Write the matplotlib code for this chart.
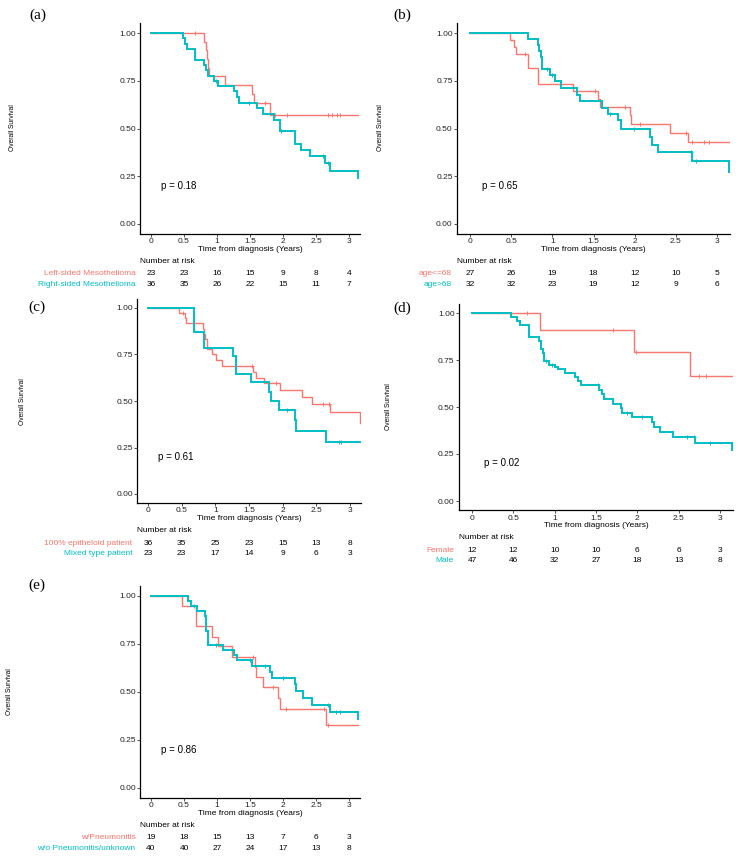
import numpy as np
import matplotlib
matplotlib.use("Agg")
import matplotlib.pyplot as plt
from matplotlib import transforms

plt.rcParams['font.family'] = ['Liberation Sans', 'DejaVu Sans']

W, H = 738, 858
RED = '#F8766D'
CYAN = '#00BFC4'

risk_times = [0, 0.5, 1, 1.5, 2, 2.5, 3]

# ---- (a) tumour side
a_red_t = [0.80, 0.83, 0.85, 0.87, 0.88, 1.12, 1.53, 1.56, 1.81, 3.14]
a_red_s = [0.955, 0.909, 0.864, 0.818, 0.773, 0.727, 0.682, 0.636, 0.573, 0.573]
a_red_c = [0.67, 1.72, 1.88, 2.06, 2.68, 2.74, 2.82, 2.86]
a_cyan_t = [0.48, 0.52, 0.55, 0.67, 0.81, 0.83, 0.86, 0.95, 1.02, 1.25, 1.30, 1.33,
            1.60, 1.70, 1.86, 1.96, 2.18, 2.28, 2.41, 2.64, 2.71, 3.14]
a_cyan_s = [0.972, 0.944, 0.917, 0.861, 0.833, 0.806, 0.773, 0.748, 0.722, 0.694, 0.666, 0.636,
            0.607, 0.575, 0.545, 0.487, 0.42, 0.387, 0.355, 0.32, 0.28, 0.24]
a_cyan_c = [0.99, 1.49, 1.97, 2.60, 2.68]
a_labels = ['Left-sided Mesothelioma', 'Right-sided Mesothelioma']
a_risk_red = [23, 23, 16, 15, 9, 8, 4]
a_risk_cyan = [36, 35, 26, 22, 15, 11, 7]

# ---- (b) age
b_red_t = [0.48, 0.53, 0.56, 0.70, 0.82, 1.25, 1.55, 1.58, 1.94, 1.96, 2.43, 2.65, 3.14]
b_red_s = [0.963, 0.926, 0.889, 0.815, 0.735, 0.697, 0.655, 0.615, 0.57, 0.525, 0.477, 0.428, 0.428]
b_red_c = [0.67, 1.52, 1.88, 2.07, 2.62, 2.70, 2.84, 2.90]
b_cyan_t = [0.70, 0.83, 0.84, 0.86, 0.88, 0.97, 1.03, 1.10, 1.30, 1.33, 1.60, 1.68, 1.80, 1.83,
            2.19, 2.21, 2.28, 2.70, 3.14]
b_cyan_s = [0.969, 0.938, 0.906, 0.875, 0.813, 0.781, 0.748, 0.713, 0.678, 0.643, 0.607, 0.578, 0.545, 0.50,
            0.458, 0.415, 0.375, 0.33, 0.27]
b_cyan_c = [0.93, 1.00, 1.70, 1.99, 2.68, 2.75]
b_labels = ['age<=68', 'age>68']
b_risk_red = [27, 26, 19, 18, 12, 10, 5]
b_risk_cyan = [32, 32, 23, 19, 12, 9, 6]

# ---- (c) histology
c_red_t = [0.46, 0.55, 0.56, 0.81, 0.83, 0.85, 0.875, 0.95, 1.01, 1.10, 1.56, 1.60, 1.72,
           1.96, 2.28, 2.43, 2.71, 3.15]
c_red_s = [0.972, 0.944, 0.917, 0.889, 0.861, 0.833, 0.778, 0.75, 0.722, 0.69, 0.657, 0.626, 0.595,
           0.561, 0.521, 0.486, 0.439, 0.38]
c_red_c = [0.52, 1.54, 1.90, 2.60, 2.69]
c_cyan_t = [0.69, 0.835, 1.26, 1.31, 1.53, 1.80, 1.83, 1.94, 2.18, 2.20, 2.64, 3.15]
c_cyan_s = [0.87, 0.783, 0.74, 0.645, 0.60, 0.55, 0.50, 0.453, 0.40, 0.34, 0.282, 0.282]
c_cyan_c = [2.07, 2.83, 2.87]
c_labels = ['100% epitheloid patient', 'Mixed type patient']
c_risk_red = [36, 35, 25, 23, 15, 13, 8]
c_risk_cyan = [23, 23, 17, 14, 9, 6, 3]

# ---- (d) sex
d_red_t = [0.82, 1.96, 2.64, 3.14]
d_red_s = [0.909, 0.795, 0.663, 0.663]
d_red_c = [0.66, 1.71, 1.98, 2.75, 2.83]
d_cyan_t = [0.47, 0.55, 0.58, 0.685, 0.815, 0.835, 0.855, 0.875, 0.935, 1.00, 1.04, 1.12, 1.24, 1.28,
            1.32, 1.54, 1.57, 1.60, 1.70, 1.80, 1.82, 1.94, 2.18, 2.20, 2.27, 2.43, 2.70, 3.14]
d_cyan_s = [0.979, 0.957, 0.936, 0.872, 0.851, 0.809, 0.787, 0.745, 0.724, 0.713, 0.70, 0.68, 0.66, 0.638,
            0.615, 0.592, 0.568, 0.545, 0.518, 0.495, 0.47, 0.445, 0.418, 0.393, 0.368, 0.342, 0.307, 0.27]
d_cyan_c = [0.90, 0.97, 1.52, 1.88, 2.06, 2.60, 2.68, 2.88]
d_labels = ['Female', 'Male']
d_risk_red = [12, 12, 10, 10, 6, 6, 3]
d_risk_cyan = [47, 46, 32, 27, 18, 13, 8]

# ---- (e) pneumonitis
e_red_t = [0.47, 0.68, 0.93, 1.02, 1.23, 1.57, 1.59, 1.70, 1.93, 1.96, 2.65, 3.14]
e_red_s = [0.947, 0.842, 0.789, 0.737, 0.684, 0.63, 0.58, 0.528, 0.47, 0.413, 0.33, 0.33]
e_red_c = [1.55, 1.85, 2.05, 2.62, 2.68]
e_cyan_t = [0.555, 0.60, 0.70, 0.82, 0.84, 0.86, 0.87, 1.09, 1.25, 1.30, 1.53, 1.80, 1.83,
            2.18, 2.20, 2.31, 2.44, 2.71, 3.14]
e_cyan_s = [0.975, 0.95, 0.924, 0.898, 0.82, 0.795, 0.745, 0.719, 0.693, 0.666, 0.636, 0.603, 0.573,
            0.54, 0.503, 0.467, 0.432, 0.398, 0.36]
e_cyan_c = [0.65, 0.99, 1.50, 1.73, 2.00, 2.68, 2.80, 2.87]
e_labels = ['w/Pneumonitis', 'w/o Pneumonitis/unknown']
e_risk_red = [19, 18, 15, 13, 7, 6, 3]
e_risk_cyan = [40, 40, 27, 24, 17, 13, 8]

p_values = ['p = 0.18', 'p = 0.65', 'p = 0.61', 'p = 0.02', 'p = 0.86']
panel_tags = ['(a)', '(b)', '(c)', '(d)', '(e)']

# pixel layout: (x of tick 0, x of tick 3, y of 1.00, y of 0.00), tag pos, ylabel pos
layout = [
    dict(x0=151, x3=349, y1=33, y0=224, tag=(38, 15), ylab=(12, 128)),
    dict(x0=470, x3=717, y1=33, y0=224, tag=(402, 15), ylab=(381, 128)),
    dict(x0=148, x3=350, y1=308, y0=494, tag=(37, 307), ylab=(22, 402)),
    dict(x0=472, x3=720, y1=313, y0=501, tag=(402, 308), ylab=(389, 407)),
    dict(x0=151, x3=349, y1=596, y0=788, tag=(37, 585), ylab=(10, 692)),
]

panels = [
    (a_red_t, a_red_s, a_red_c, a_cyan_t, a_cyan_s, a_cyan_c, a_labels, a_risk_red, a_risk_cyan),
    (b_red_t, b_red_s, b_red_c, b_cyan_t, b_cyan_s, b_cyan_c, b_labels, b_risk_red, b_risk_cyan),
    (c_red_t, c_red_s, c_red_c, c_cyan_t, c_cyan_s, c_cyan_c, c_labels, c_risk_red, c_risk_cyan),
    (d_red_t, d_red_s, d_red_c, d_cyan_t, d_cyan_s, d_cyan_c, d_labels, d_risk_red, d_risk_cyan),
    (e_red_t, e_red_s, e_red_c, e_cyan_t, e_cyan_s, e_cyan_c, e_labels, e_risk_red, e_risk_cyan),
]

XLIM = (-0.16, 3.16)
YLIM = (-0.05, 1.05)


def surv_at(times, survs, t):
    # value of the step curve at time t
    idx = np.searchsorted(times, t, side='right') - 1
    return 1.0 if idx < 0 else survs[idx]


def draw_km(ax, times, survs, cens, color, lw):
    tt = [0] + list(times)
    ss = [1.0] + list(survs)
    ax.step(tt, ss, where='post', color=color, lw=lw, solid_joinstyle='miter')
    cy = [surv_at(times, survs, c) for c in cens]
    ax.plot(cens, cy, ls='none', marker='+', ms=3.5, mew=0.7, color=color)


fig = plt.figure(figsize=(W / 100, H / 100), dpi=100)

for i, (lay, pdata) in enumerate(zip(layout, panels)):
    rt, rs, rc, ct, cs, cc, labels, risk_r, risk_c = pdata
    ppy = (lay['x3'] - lay['x0']) / 3.0
    ppu = lay['y0'] - lay['y1']
    left = lay['x0'] + XLIM[0] * ppy
    width = (XLIM[1] - XLIM[0]) * ppy
    top = lay['y1'] - (YLIM[1] - 1) * ppu
    height = (YLIM[1] - YLIM[0]) * ppu
    bottom = top + height
    ax = fig.add_axes([left / W, 1 - bottom / H, width / W, height / H])

    draw_km(ax, rt, rs, rc, RED, 1.0)
    draw_km(ax, ct, cs, cc, CYAN, 1.4)

    ax.set_xlim(*XLIM)
    ax.set_ylim(*YLIM)
    ax.set_xticks(risk_times)
    ax.set_xticklabels(['0', '0.5', '1', '1.5', '2', '2.5', '3'])
    ax.set_yticks([0, 0.25, 0.5, 0.75, 1.0])
    ax.set_yticklabels(['0.00', '0.25', '0.50', '0.75', '1.00'])
    for side in ['top', 'right']:
        ax.spines[side].set_visible(False)
    for side in ['left', 'bottom']:
        ax.spines[side].set_linewidth(0.9)
    ax.tick_params(labelsize=6, length=2, width=0.6, pad=1, colors='#333333', labelcolor='#222222')
    ax.patch.set_alpha(0)

    ax.text(0.15, 0.2, p_values[i], fontsize=7, ha='left', va='center')

    # labels and risk table
    fig.text(lay['tag'][0] / W, 1 - lay['tag'][1] / H, panel_tags[i], fontsize=11,
             family=['Liberation Serif', 'DejaVu Serif'], ha='center', va='center')
    fig.text(lay['ylab'][0] / W, 1 - lay['ylab'][1] / H, 'Overall Survival', fontsize=4.8,
             rotation=90, ha='center', va='center')

    tr = transforms.blended_transform_factory(ax.transData, fig.transFigure)
    cx = (lay['x0'] + lay['x3']) / 2.0
    fig.text(cx / W, 1 - (bottom + 15.5) / H, 'Time from diagnosis (Years)', fontsize=6,
             ha='center', va='center')
    fig.text(left / W, 1 - (bottom + 27.5) / H, 'Number at risk', fontsize=6,
             ha='left', va='center')
    for row, (lab, vals, col) in enumerate([(labels[0], risk_r, RED), (labels[1], risk_c, CYAN)]):
        yy = 1 - (bottom + 40 + row * 10.5) / H
        fig.text((left - 5) / W, yy, lab, fontsize=6, color=col, ha='right', va='center')
        for t, v in zip(risk_times, vals):
            ax.text(t, yy, str(v), fontsize=6, ha='center', va='center', transform=tr,
                    clip_on=False)

fig.savefig('out.png', dpi=100)
